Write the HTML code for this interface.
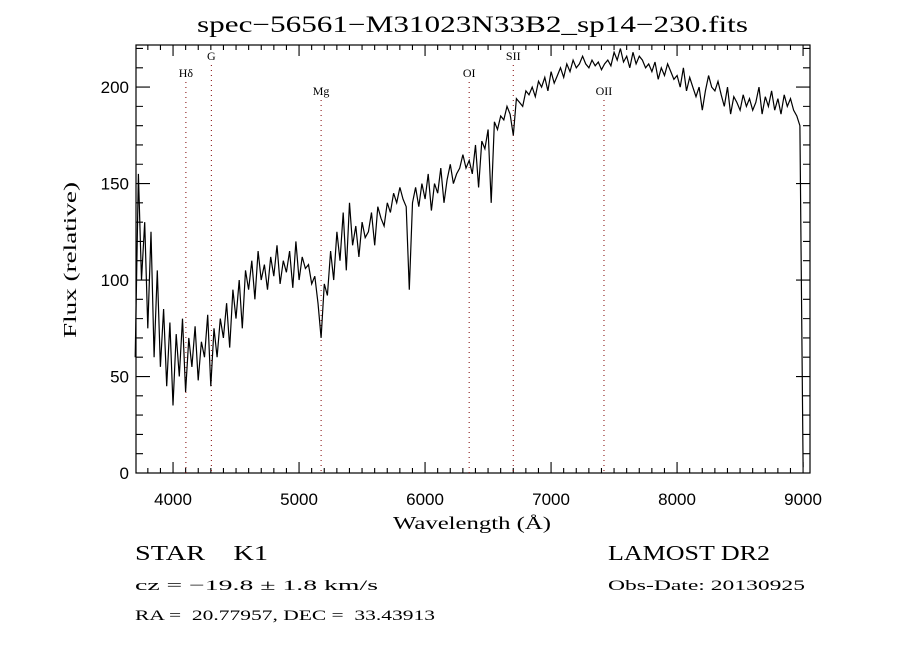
<!DOCTYPE html>
<html><head><meta charset="utf-8"><style>
body{margin:0;background:#fff;}
svg text{font-family:"Liberation Serif",serif;fill:#000;}
</style></head><body>
<svg id="chart" width="900" height="650" viewBox="0 0 900 650" xmlns="http://www.w3.org/2000/svg">
<rect width="900" height="650" fill="#fff"/>
<text x="197" y="32" font-size="23" textLength="551" lengthAdjust="spacingAndGlyphs">spec−56561−M31023N33B2_sp14−230.fits</text>
<g id="axes"></g>
<g id="lines"></g>
<path id="spec" fill="none" stroke="#000" stroke-width="1.2"/>
<text x="393" y="529" font-size="18" textLength="158" lengthAdjust="spacingAndGlyphs">Wavelength (Å)</text>
<text transform="translate(76,338) rotate(-90)" font-size="18" textLength="156" lengthAdjust="spacingAndGlyphs">Flux (relative)</text>
<text x="135" y="560" font-size="21" xml:space="preserve" textLength="133" lengthAdjust="spacingAndGlyphs">STAR    K1</text>
<text x="135" y="590" font-size="15" textLength="243" lengthAdjust="spacingAndGlyphs">cz = −19.8 ± 1.8 km/s</text>
<text x="135" y="620" font-size="15" xml:space="preserve" textLength="300" lengthAdjust="spacingAndGlyphs">RA =  20.77957, DEC =  33.43913</text>
<text x="608" y="560" font-size="21" textLength="162" lengthAdjust="spacingAndGlyphs">LAMOST DR2</text>
<text x="608" y="590" font-size="15" textLength="197" lengthAdjust="spacingAndGlyphs">Obs-Date: 20130925</text>
</svg>
<script>
const wlStart = 3700;
const wlStep = 25;
const flux = [60,155,100,130,75,125,60,105,55,85,45,78,
35,72,50,80,42,70,55,76,48,68,60,82,
45,75,60,80,70,88,65,95,
80,100,75,105,95,110,90,115,100,108,95,112,
102,118,98,110,104,115,96,120,100,112,106,108,98,102,
88,70,98,
92,115,100,125,110,135,105,140,118,128,112,
130,122,125,135,118,138,132,128,140,135,145,140,148,142,138,
95,140,
148,138,150,142,155,136,150,145,158,140,152,160,150,155,158,
165,158,162,155,170,148,172,168,178,140,182,178,185,183,190,186,
175,194,192,190,198,196,200,195,203,200,205,198,
208,202,206,210,205,212,208,214,210,212,216,212,210,214,211,213,209,212,214,211,
218,214,220,213,216,210,218,212,216,214,210,212,208,213,204,210,206,212,208,204,
206,200,210,198,205,200,195,200,188,198,206,200,198,203,196,190,200,186,195,192,
188,196,190,194,188,192,200,186,195,190,198,188,194,186,196,190,194,188,185,180,
3];
const lineNames = ["Hδ","G","Mg","OI","SII","OII"];
const lineWl = [4102,4304,5175,6350,6700,7420];
const lineLabelY = [77,60,95,77,60,95];
const xTicks = [4000,5000,6000,7000,8000,9000];
const yTicks = [0,50,100,150,200];

const L=136,R=810,T=45,B=473;
const xMin=3706,xMax=9055,yMin=0,yMax=221.8;
const X=w=>L+(w-xMin)/(xMax-xMin)*(R-L);
const Y=v=>B-(v-yMin)/(yMax-yMin)*(B-T);
const NS="http://www.w3.org/2000/svg";
const ax=document.getElementById('axes');
function mk(tag,attrs,parent){const e=document.createElementNS(NS,tag);for(const k in attrs)e.setAttribute(k,attrs[k]);parent.appendChild(e);return e;}
const frame=mk('rect',{x:L,y:T,width:R-L,height:B-T,fill:'none',stroke:'#000','stroke-width':1.2},ax);


let d='';
for(let w=3800;w<=xMax;w+=100){const x=X(w);const len=(w%1000===0)?11:5;d+=`M${x},${B}v${-len}M${x},${T}v${len}`;}
for(let v=0;v<=yMax;v+=10){const y=Y(v);const len=(v%50===0)?14:7;d+=`M${L},${y}h${len}M${R},${y}h${-len}`;}
const tp=mk('path',{d:d,stroke:'#000','stroke-width':1.1,fill:'none'},ax);


xTicks.forEach(w=>{const t=mk('text',{x:X(w),y:B+32,'font-size':17,'text-anchor':'middle',style:'font-family:"Liberation Sans",sans-serif'},ax);t.textContent=w;

});
yTicks.forEach(v=>{const t=mk('text',{x:L-7,y:Y(v)+6,'font-size':17,'text-anchor':'end',style:'font-family:"Liberation Sans",sans-serif'},ax);t.textContent=v;

});
const lg=document.getElementById('lines');
lineWl.forEach((w,i)=>{const x=X(w);
const ln=mk('line',{x1:x,x2:x,y1:lineLabelY[i]+5,y2:B,stroke:'#800000','stroke-width':1,'stroke-dasharray':'1,4'},lg);


const t=mk('text',{x:x,y:lineLabelY[i],'font-size':12,'text-anchor':'middle'},lg);t.textContent=lineNames[i];

});
let p='';
flux.forEach((v,i)=>{const w=Math.min(wlStart+i*wlStep,9000);p+=(i?'L':'M')+X(w).toFixed(1)+','+Y(v).toFixed(1);});
document.getElementById('spec').setAttribute('d',p);
</script>
</body></html>
